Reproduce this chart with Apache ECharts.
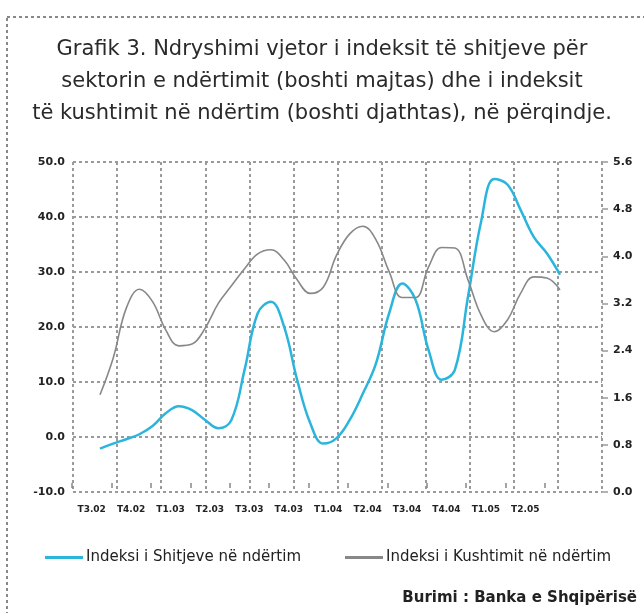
<!DOCTYPE html>
<html>
<head>
<meta charset="utf-8">
<script src="https://cdn.jsdelivr.net/npm/echarts@6/dist/echarts.min.js"></script>
<style>
    html, body { margin: 0; padding: 0; background: #fff; }
    #chart { width: 644px; height: 613px; }
</style>
</head>
<body>
<div id="chart"></div>
<script>
// tremujoret (etiketat e boshtit x)
var quarters = ['T3.02', 'T4.02', 'T1.03', 'T2.03', 'T3.03', 'T4.03',
    'T1.04', 'T2.04', 'T3.04', 'T4.04', 'T1.05', 'T2.05'];

// indeksi i shitjeve (boshti majtas), vlera mujore
var shitjet = [-2.1, -1.2, -0.4, 0.5, 2.0, 4.3, 5.6, 4.9, 3.1, 1.6, 3.1, 12.2,
    22.5, 24.6, 20.1, 10.4, 2.5, -1.2, -0.2, 3.1, 7.9, 13.4, 22.5, 27.9,
    25.0, 15.8, 10.4, 12.2, 25.5, 39.2, 46.9, 45.9, 41.3, 36.4, 33.4, 29.5];

// indeksi i kushtimit (boshti djathtas), vlera mujore
var kushtimi = [1.65, 2.27, 3.12, 3.44, 3.23, 2.75, 2.48, 2.51, 2.78, 3.20, 3.50, 3.79,
    4.04, 4.11, 3.94, 3.60, 3.37, 3.48, 4.02, 4.38, 4.51, 4.28, 3.74, 3.30,
    3.30, 3.82, 4.15, 4.14, 3.60, 3.00, 2.72, 2.92, 3.37, 3.65, 3.63, 3.43];

var leftTicks = { min: -10, max: 50, step: 10 };
var rightTicks = { min: 0, max: 5.6, step: 0.8 };

var months = [];
for (var i = 0; i < shitjet.length; i++) {
    months.push('m' + (i + 1));
}

var gridColor = '#9a9a9a';
var wideFont = 'DejaVu Sans, Verdana, sans-serif';

var myChart = echarts.init(document.getElementById('chart'));
var option = {
    animation: false,
    title: {
        text: 'Grafik 3. Ndryshimi vjetor i indeksit të shitjeve për\nsektorin e ndërtimit (boshti majtas) dhe i indeksit\ntë kushtimit në ndërtim (boshti djathtas), në përqindje.',
        left: 'center',
        top: 29,
        textStyle: {
            fontFamily: wideFont,
            fontSize: 21,
            fontWeight: 'normal',
            color: '#2a2a2a',
            lineHeight: 32
        }
    },
    legend: {
        left: 40,
        top: 545,
        icon: 'rect',
        itemWidth: 38,
        itemHeight: 3,
        itemGap: 44,
        textStyle: {
            fontFamily: wideFont,
            fontSize: 15,
            color: '#222',
            padding: [0, 0, 0, -2]
        },
        data: ['Indeksi i Shitjeve në ndërtim', 'Indeksi i Kushtimit në ndërtim']
    },
    graphic: [
        {
            type: 'rect',
            shape: { x: 7, y: 17, width: 700, height: 700 },
            style: { fill: 'none', stroke: '#888', lineWidth: 2, lineDash: [3, 3] },
            silent: true
        },
        {
            type: 'text',
            right: 7,
            top: 591,
            style: {
                text: 'Burimi : Banka e Shqipërisë',
                fontFamily: wideFont,
                fontSize: 15,
                fontWeight: 'bold',
                fill: '#222'
            }
        }
    ],
    grid: [
        // rrjeti me vija
        {left: 73, right: 42, top: 162, bottom: 121},
        // seritë
        {left: 100, right: 84, top: 162, bottom: 121},
        // etiketat e tremujoreve
        {left: 72, right: 99, top: 162, bottom: 125}
    ],
    xAxis: [
        {
            gridIndex: 0,
            type: 'value',
            min: 0,
            max: 12,
            interval: 1,
            axisLine: {show: false},
            axisTick: {show: false},
            axisLabel: {show: false},
            splitLine: {show: true, lineStyle: {color: gridColor, type: [3, 3], width: 2}}
        },
        {
            gridIndex: 1,
            type: 'category',
            boundaryGap: false,
            data: months,
            show: false
        },
        {
            gridIndex: 2,
            type: 'category',
            data: quarters,
            axisLine: {show: false},
            axisTick: {show: true, inside: true, length: 5, lineStyle: {color: '#888', width: 1.5}},
            axisLabel: {
                interval: 0,
                hideOverlap: false,
                margin: 17,
                fontFamily: wideFont,
                fontSize: 9,
                fontWeight: 'bold',
                color: '#222'
            },
            splitLine: {show: false}
        }
    ],
    yAxis: [
        {
            gridIndex: 0,
            type: 'value',
            position: 'left',
            min: leftTicks.min,
            max: leftTicks.max,
            interval: leftTicks.step,
            axisLine: {show: false},
            axisTick: {show: false},
            axisLabel: {
                margin: 8,
                fontFamily: wideFont,
                fontSize: 11,
                fontWeight: 'bold',
                color: '#222',
                formatter: function (v) { return v.toFixed(1); }
            },
            splitLine: {show: true, lineStyle: {color: gridColor, type: [3, 3], width: 2}}
        },
        {
            gridIndex: 0,
            type: 'value',
            position: 'right',
            min: rightTicks.min,
            max: rightTicks.max,
            interval: rightTicks.step,
            axisLine: {show: false},
            axisTick: {show: true, length: 6, lineStyle: {color: '#999', width: 1.5}},
            axisLabel: {
                margin: 11,
                fontFamily: wideFont,
                fontSize: 11,
                fontWeight: 'bold',
                color: '#222',
                formatter: function (v) { return v.toFixed(1); }
            },
            splitLine: {show: false}
        },
        {
            gridIndex: 1,
            type: 'value',
            min: leftTicks.min,
            max: leftTicks.max,
            show: false
        },
        {
            gridIndex: 1,
            type: 'value',
            min: rightTicks.min,
            max: rightTicks.max,
            show: false
        },
        {
            gridIndex: 2,
            type: 'value',
            show: false
        }
    ],
    series: [
        {
            name: 'Indeksi i Shitjeve në ndërtim',
            type: 'line',
            xAxisIndex: 1,
            yAxisIndex: 2,
            data: shitjet,
            smooth: 0.4,
            symbol: 'none',
            lineStyle: {color: '#2bb5dc', width: 2.5},
            itemStyle: {color: '#2bb5dc'}
        },
        {
            name: 'Indeksi i Kushtimit në ndërtim',
            type: 'line',
            xAxisIndex: 1,
            yAxisIndex: 3,
            data: kushtimi,
            smooth: 0.4,
            symbol: 'none',
            lineStyle: {color: '#888', width: 1.6},
            itemStyle: {color: '#888'}
        }
    ]
};
myChart.setOption(option);
</script>
</body>
</html>
